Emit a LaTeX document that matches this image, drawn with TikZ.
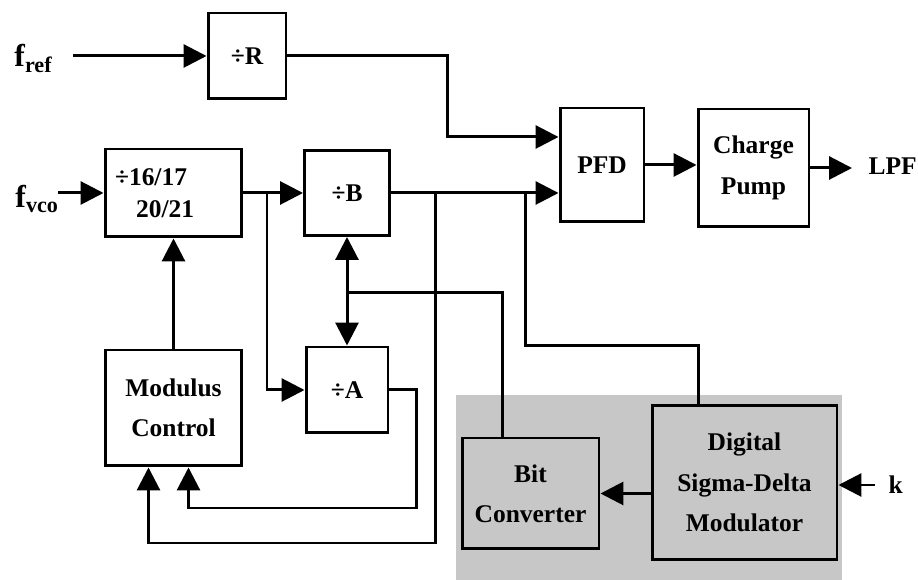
\documentclass[tikz,border=0pt]{standalone}
\usepackage{fontspec}
\setmainfont{Liberation Serif}
\usetikzlibrary{arrows.meta,calc}

\begin{document}
\begin{tikzpicture}[x=0.02cm,y=0.02cm,line width=1.7pt,
    >={Triangle[length=13pt,width=13pt]},
    font=\bfseries\fontsize{14.5}{23}\selectfont,
    blk/.style={draw,inner sep=0pt,align=center},
    lbl/.style={inner sep=0pt,font=\bfseries\fontsize{18}{20}\selectfont}]
  \useasboundingbox (0,0) rectangle (918,580);
  \fill[black!22] (456,0) rectangle (842,185);

  \node[blk,minimum width=1.56cm,minimum height=1.72cm] (divR) at (247,524) {÷R};
  \node[blk,minimum width=2.74cm,minimum height=1.76cm,align=left,
        inner xsep=5.7pt,text width=2.74cm-11.4pt,
        font=\bfseries\fontsize{14.5}{18}\selectfont] (presc) at (173.5,387)
        {÷16/17\\\hspace*{12pt}20/21};
  \node[blk,minimum width=1.70cm,minimum height=1.70cm] (divB) at (347,387) {÷B};
  \node[blk,minimum width=1.68cm,minimum height=2.28cm] (pfd) at (602,415) {PFD};
  \node[blk,minimum width=2.22cm,minimum height=2.36cm] (cp) at (753.5,412) {Charge\\Pump};
  \node[blk,minimum width=2.74cm,minimum height=2.32cm] (modc) at (173.5,172) {Modulus\\Control};
  \node[blk,minimum width=1.64cm,minimum height=1.72cm] (divA) at (347,190) {÷A};
  \node[blk,minimum width=2.74cm,minimum height=2.22cm] (bitc) at (530.5,86.5) {Bit\\Converter};
  \node[blk,minimum width=3.70cm,minimum height=3.10cm] (dsm) at (744.5,97.5) {Digital\\Sigma-Delta\\Modulator};

  \node[lbl,anchor=base west] (fref) at (13,513) {f\textsubscript{ref}};
  \node[lbl,anchor=base west] (fvco) at (14,372) {f\textsubscript{vco}};
  \node[lbl,anchor=west,font=\bfseries\fontsize{14.5}{17}\selectfont] (lpf) at (867,414) {LPF};
  \node[lbl,anchor=west,font=\bfseries\fontsize{14.5}{17}\selectfont] (k) at (887,95) {k};

  \coordinate (frefin) at (73,524);
  \coordinate (fvcoin) at (58,387);
  \coordinate (lpfend) at (852,412);
  \coordinate (kin) at (875,95);
  \coordinate (j1) at (267,387);
  \coordinate (j2) at (435,387);
  \coordinate (j3) at (525,387);
  \coordinate (busB) at (347,287);
  \coordinate (pfdA) at ($(pfd.west)+(0,28)$);
  \coordinate (pfdB) at ($(pfd.west)+(0,-28)$);

  \draw[->] (frefin) -- (frefin -| divR.west);
  \draw[->] (divR.east) -| (447,443) -- (pfdA);
  \draw[->] (fvcoin) -- (presc.west);
  \draw[->] (presc.east) -- (divB.west);
  \draw[->] (divB.east) -- (pfdB);
  \draw[->] (pfd.east) -- (pfd.east -| cp.west);
  \draw[->] (cp.east) -- (lpfend);
  \draw[->] (j1) |- (divA.west);
  \draw[->] (j2) -- (435,37) -| ($(modc.south)+(-25,0)$);
  \draw[->] (divA.east) -| (416,72) -| ($(modc.south)+(15,0)$);
  \draw (j3) -- (525,234) -| ($(dsm.north)+(-46,0)$);
  \draw[->] (modc) -- (presc);
  \draw[<->] (divB.south) -- (divA.north);
  \draw ($(bitc.north)+(-28,0)$) |- (busB);
  \draw[->] (dsm.west |- bitc) -- (bitc.east);
  \draw[->] (kin) -- (kin -| dsm.east);
\end{tikzpicture}
\end{document}
